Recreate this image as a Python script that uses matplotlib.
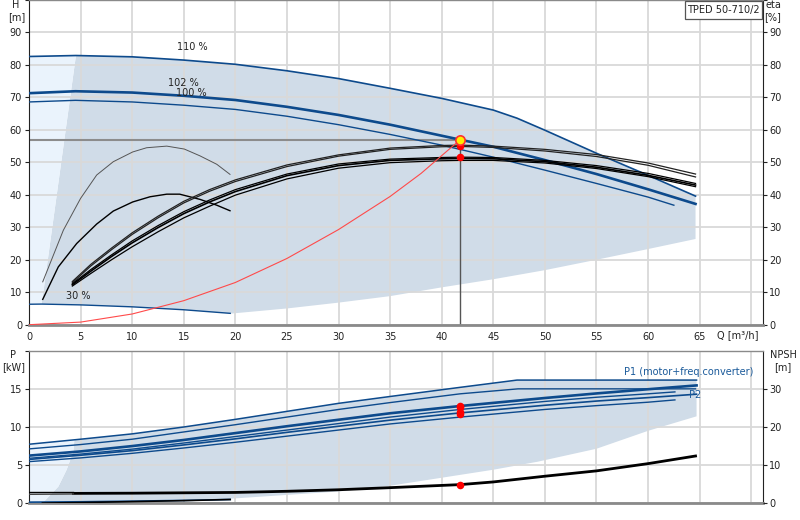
import matplotlib
matplotlib.use("Agg")
import matplotlib.pyplot as plt
from matplotlib.patches import Polygon, Rectangle

# ---------------- data ----------------
# Head curves  H [m] vs Q [m3/h]
Q110 = [0, 4.55, 10, 15, 20, 25, 30, 35, 40, 45, 47.3, 50, 55, 60, 64.6]
H110 = [82.6, 82.9, 82.5, 81.5, 80.2, 78.2, 75.8, 72.8, 69.7, 66.1, 63.6, 59.9, 52.8, 46.0, 39.6]
Q102 = [0, 4.5, 10, 15, 20, 25, 30, 35, 40, 45, 50, 55, 60, 64.6]
H102 = [71.3, 71.9, 71.5, 70.5, 69.2, 67.1, 64.6, 61.6, 58.2, 54.8, 50.7, 46.4, 41.7, 37.2]
Q100 = [0, 4.5, 10, 15, 20, 25, 30, 35, 40, 45, 50, 55, 60, 62.5]
H100 = [68.6, 69.1, 68.6, 67.6, 66.3, 64.2, 61.6, 58.6, 55.3, 51.6, 47.6, 43.5, 39.3, 36.8]
Q30 = [0, 1.23, 5, 10, 15, 19.5]
H30 = [6.3, 6.35, 6.1, 5.5, 4.6, 3.5]
# lower edge of the operating range (head chart)
Qenv_low = [64.6, 60, 55, 50, 45, 40, 35, 30, 25, 19.5]
Henv_low = [26.4, 23.3, 20.0, 16.8, 14.0, 11.5, 8.8, 6.8, 5.0, 3.4]
Qenv_right = [64.6, 64.6]
Henv_right = [39.6, 26.4]
# system curve
Qsys = [0, 5, 10, 15, 20, 25, 30, 35, 38, 41.8]
Hsys = [0, 0.8, 3.3, 7.4, 13.0, 20.4, 29.3, 39.5, 46.6, 57.0]
# duty point
Q_duty = 41.8
H_duty = 57.0
eta_duty = [55.0, 51.5]

# efficiency curves (eta [%])
Qeta30a = [1.33, 3.33, 5.0, 6.56, 8.17, 10.05, 11.4, 13.35, 15.05, 16.57, 18.2, 19.48]
eta30a = [13.2, 29.1, 38.9, 46.1, 50.2, 53.2, 54.5, 55.0, 54.1, 52.0, 49.4, 46.3]
Qeta30b = [1.33, 2.84, 4.62, 6.56, 8.17, 10.05, 11.73, 13.35, 14.6, 16.57, 18.2, 19.48]
eta30b = [7.8, 17.8, 25.0, 31.0, 35.0, 37.8, 39.4, 40.2, 40.2, 38.6, 36.8, 35.1]
Qeta = [4.2, 6, 8, 10, 12.5, 15, 17.5, 20, 25, 30, 35, 40, 41.8, 45, 50, 55, 60, 64.6]
etaP_a = [13.3, 18.6, 23.6, 28.3, 33.4, 38.0, 41.6, 44.6, 49.2, 52.3, 54.4, 55.2, 55.3, 55.0, 54.0, 52.4, 49.8, 46.4]
etaP_b = [12.9, 18.1, 23.1, 27.8, 32.9, 37.5, 41.1, 44.1, 48.7, 51.9, 54.0, 54.8, 54.9, 54.6, 53.5, 51.8, 49.1, 45.5]
etaT_a = [12.6, 17.0, 21.5, 25.8, 30.5, 34.8, 38.4, 41.6, 46.4, 49.5, 51.0, 51.5, 51.6, 51.5, 50.6, 49.0, 46.6, 43.5]
etaT_b = [12.3, 16.5, 21.0, 25.2, 29.9, 34.2, 37.8, 41.0, 45.9, 49.0, 50.6, 51.1, 51.2, 51.1, 50.2, 48.5, 46.0, 43.0]
etaT_c = [11.9, 15.8, 20.0, 24.0, 28.6, 32.9, 36.5, 39.9, 44.9, 48.2, 49.9, 50.5, 50.6, 50.6, 49.8, 48.1, 45.6, 42.5]

# power curves P [kW]
QP110a = [0, 5, 10, 15, 20, 25, 30, 35, 41.8, 47.3, 64.7]
P110a = [7.74, 8.4, 9.1, 10.0, 11.0, 12.05, 13.1, 14.0, 15.2, 16.15, 16.15]
QP110b = [0, 5, 10, 15, 20, 25, 30, 35, 41.8, 47.4, 64.6]
P110b = [7.13, 7.7, 8.4, 9.35, 10.3, 11.3, 12.3, 13.2, 14.35, 15.0, 15.0]
QPc = [0, 5, 10, 15, 20, 25, 30, 35, 41.8, 50, 55, 60, 64.7]
Pc = [6.25, 6.8, 7.5, 8.3, 9.2, 10.1, 10.95, 11.8, 12.75, 13.8, 14.4, 14.95, 15.45]
QPd = [0, 5, 10, 15, 20, 25, 30, 35, 41.8, 50, 55, 60, 62.6]
Pd = [5.9, 6.45, 7.1, 7.9, 8.75, 9.6, 10.45, 11.3, 12.3, 13.35, 13.9, 14.35, 14.6]
QPe = [0, 5, 10, 15, 20, 25, 30, 35, 41.8, 50, 55, 60, 64.7]
Pe = [5.75, 6.3, 6.9, 7.65, 8.45, 9.3, 10.1, 10.9, 11.85, 12.85, 13.4, 13.85, 14.3]
QPf = [0, 5, 10, 15, 20, 25, 30, 35, 41.8, 50, 55, 60, 62.6]
Pf = [5.46, 5.95, 6.55, 7.25, 8.0, 8.8, 9.6, 10.4, 11.3, 12.3, 12.8, 13.25, 13.55]
QP30 = [0, 5, 10, 15, 19.5]
P30 = [0.15, 0.2, 0.28, 0.38, 0.5]
P_duty = [12.8, 12.6, 11.95, 11.7]
# power chart operating range
QPenv_left = [1.4, 2.85, 3.65, 4.3, 4.4]
PPenv_left = [0.15, 2.2, 4.4, 6.8, 8.35]
QPenv_low = [64.7, 60, 55, 49.3, 45, 40, 35, 30, 25, 19.5, 10, 1.4]
PPenv_low = [11.4, 9.5, 7.15, 5.45, 4.4, 3.35, 2.3, 1.55, 1.1, 0.6, 0.35, 0.15]

# NPSH [m]
Qnpsh = [4.3, 10, 15, 20, 25, 30, 35, 41.8, 45, 50, 55, 60, 64.6]
Npsh = [2.6, 2.65, 2.75, 2.85, 3.15, 3.55, 4.1, 4.9, 5.6, 7.1, 8.5, 10.4, 12.4]
Qnpsh_start = [0, 4.3]
Npsh_start_a = [2.85, 2.85]
Npsh_start_b = [2.35, 2.45]
Qnpsh30 = [1.3, 5, 10, 15, 19.5]
Npsh30 = [0.05, 0.2, 0.45, 0.7, 1.0]
Npsh_duty = 4.9

xticks = [0, 5, 10, 15, 20, 25, 30, 35, 40, 45, 50, 55, 60, 65]
hticks = [0, 10, 20, 30, 40, 50, 60, 70, 80, 90]
pticks = [0, 5, 10, 15]
nticks = [0, 10, 20, 30]

# ---------------- styling ----------------
plt.rcParams['font.family'] = ['DejaVu Sans']
BLUE = '#0d4a8c'
SHADE = '#d0dce8'
LIGHT = '#eaf3fc'
GRID = '#d9d9d9'
FS = 7

W, Hpx = 800, 520
fig = plt.figure(figsize=(8, 5.2), dpi=100)
XMAX = 71.09

def fx(px):
    return px / W

def fy(py):
    return 1 - py / Hpx

ax1 = fig.add_axes([fx(29), fy(324.7), 733.5 / W, 324.7 / Hpx])
ax2 = fig.add_axes([fx(29), fy(503.3), 733.5 / W, 152.6 / Hpx])

for ax in (ax1, ax2):
    ax.set_xlim(0, XMAX)
    ax.set_axisbelow('line')
    ax.set_xticks([0, 5, 10, 15, 20, 25, 30, 35, 40, 45, 50, 55, 60, 65, 70])
    ax.grid(True, color=GRID, lw=1.3)
    ax.spines['left'].set_color('#222222')
    ax.spines['right'].set_color('#222222')
    ax.spines['top'].set_color('#8a8a8a')
    ax.spines['bottom'].set_color('#8a8a8a')
    ax.spines['bottom'].set_linewidth(2)
    ax.spines['top'].set_linewidth(1)

# ---------------- top chart ----------------
ax1.set_ylim(0, 100)
ax1.set_yticks(hticks + [100])
ax1.set_yticklabels([str(v) for v in hticks] + [''])
ax1.tick_params(axis='y', which='both', left=True, right=True, labelleft=True,
                labelright=True, length=3, width=0.8, pad=2, labelsize=FS,
                colors='#222222')
ax1.set_xticklabels([str(v) for v in xticks] + [''])
ax1.tick_params(axis='x', length=0, pad=5, labelsize=FS, colors='#222222')

# operating range fills
upper_env = list(zip(Q110[1:], H110[1:]))
poly_pts = upper_env + list(zip(Qenv_right, Henv_right))[1:] + \
    list(zip(Qenv_low, Henv_low)) + list(zip(Q30[::-1], H30[::-1]))[:-1]
ax1.add_patch(Polygon(poly_pts, closed=True, facecolor=SHADE, edgecolor='none', zorder=1))
light_pts = [(Q30[0], H30[0]), (Q30[1], H30[1]), (Q110[1], H110[1]), (Q110[0], H110[0])]
ax1.add_patch(Polygon(light_pts, closed=True, facecolor=LIGHT, edgecolor='none', zorder=1))

# head curves
ax1.plot(Q110, H110, color=BLUE, lw=1.2, zorder=3)
ax1.plot(Q102, H102, color=BLUE, lw=1.9, zorder=3)
ax1.plot(Q100, H100, color=BLUE, lw=1.0, zorder=3)
ax1.plot(Q30, H30, color=BLUE, lw=1.0, zorder=3)

# efficiency curves
ax1.plot(Qeta30a, eta30a, color='#555555', lw=0.7, zorder=3)
ax1.plot(Qeta30b, eta30b, color='black', lw=1.0, zorder=3)
for arr, lw, col in ((etaP_a, 0.9, '#222222'), (etaP_b, 0.9, '#222222'),
                     (etaT_a, 0.9, 'black'), (etaT_b, 1.2, 'black'),
                     (etaT_c, 0.9, 'black')):
    ax1.plot(Qeta, arr, color=col, lw=lw, zorder=3)

# system curve & duty lines
ax1.plot(Qsys, Hsys, color='#ff4a4a', lw=0.8, zorder=3)
ax1.plot([0, Q_duty], [H_duty, H_duty], color='#8c8c8c', lw=1.5, zorder=2.5)
ax1.plot([Q_duty, Q_duty], [0, H_duty], color='#555555', lw=1.0, zorder=2.5)
ax1.scatter([Q_duty, Q_duty], eta_duty, s=30, color='red', zorder=5, linewidths=0)
ax1.scatter([Q_duty], [H_duty], s=45, facecolor='#ffee00', edgecolor='#ff3030',
            linewidths=1.2, zorder=6)

# curve labels
lab_kw = dict(fontsize=FS, color='#222222', ha='center', va='center')
fig.text(fx(192), fy(47), '110 %', **lab_kw)
fig.text(fx(183), fy(83.5), '102 %', **lab_kw)
fig.text(fx(191), fy(92.5), '100 %', **lab_kw)
fig.text(fx(78), fy(296), '30 %', **lab_kw)

# axis captions
fig.text(fx(16), fy(5), 'H', **lab_kw)
fig.text(fx(17), fy(17), '[m]', **lab_kw)
fig.text(fx(773), fy(5), 'eta', **lab_kw)
fig.text(fx(773), fy(17), '[%]', **lab_kw)
fig.text(fx(738), fy(335.5), 'Q [m³/h]', **lab_kw)

# title box
fig.patches.append(Rectangle((fx(684.5), fy(19)), (762 - 684.5) / W, 18.5 / Hpx,
                             transform=fig.transFigure, facecolor='white',
                             edgecolor='#555555', lw=0.9, zorder=10))
fig.text(fx(723), fy(9.5), 'TPED 50-710/2', zorder=11, **lab_kw)

# ---------------- bottom chart ----------------
ax2.set_ylim(0, 20)
ax2.set_yticks(pticks + [20])
ax2.set_yticklabels([str(v) for v in pticks] + [''])
ax2.tick_params(axis='y', left=True, length=3, width=0.8, pad=2, labelsize=FS,
                colors='#222222')
ax2.tick_params(axis='x', length=0, labelbottom=False)

ax2r = ax2.twinx()
ax2r.set_ylim(0, 40)
ax2r.set_yticks(nticks)
ax2r.tick_params(axis='y', length=3, width=0.8, pad=2, labelsize=FS, colors='#222222')
for s in ax2r.spines.values():
    s.set_visible(False)

top_env = [(q, p) for q, p in zip(QP110a, P110a) if q >= QPenv_left[-1]]
penv = [(QPenv_left[-1], PPenv_left[-1])] + top_env + list(zip(QPenv_low, PPenv_low)) + \
    list(zip(QPenv_left, PPenv_left))[:-1]
ax2.add_patch(Polygon(penv, closed=True, facecolor=SHADE, edgecolor='none', zorder=1))
plight = [(0, 0), (QPenv_left[0], 0)] + list(zip(QPenv_left, PPenv_left)) + \
    [(QP110a[1], P110a[1]), (QP110a[0], P110a[0])]
ax2.add_patch(Polygon(plight, closed=True, facecolor=LIGHT, edgecolor='none', zorder=1))

ax2.plot(QP110a, P110a, color=BLUE, lw=1.1, zorder=3)
ax2.plot(QP110b, P110b, color=BLUE, lw=1.0, zorder=3)
ax2.plot(QPc, Pc, color=BLUE, lw=1.9, zorder=3)
ax2.plot(QPd, Pd, color=BLUE, lw=1.0, zorder=3)
ax2.plot(QPe, Pe, color=BLUE, lw=1.2, zorder=3)
ax2.plot(QPf, Pf, color=BLUE, lw=1.0, zorder=3)
ax2.plot(QP30, P30, color=BLUE, lw=1.2, zorder=3)
ax2.scatter([Q_duty] * len(P_duty), P_duty, s=30, color='red', zorder=5, linewidths=0)

ax2r.plot(Qnpsh, Npsh, color='black', lw=2.0, zorder=3)
ax2r.plot(Qnpsh_start, Npsh_start_a, color='black', lw=1.0, zorder=3)
ax2r.plot(Qnpsh_start, Npsh_start_b, color='#444444', lw=1.0, zorder=3)
ax2r.plot(Qnpsh30, Npsh30, color='black', lw=1.2, zorder=3)
ax2r.scatter([Q_duty], [Npsh_duty], s=30, color='red', zorder=5, linewidths=0)

blue_kw = dict(fontsize=FS, color='#1a5a9a', va='center')
fig.text(fx(753), fy(372), 'P1 (motor+freq.converter)', ha='right', **blue_kw)
fig.text(fx(689), fy(394.5), 'P2', ha='left', **blue_kw)

fig.text(fx(13), fy(355), 'P', **lab_kw)
fig.text(fx(14), fy(367), '[kW]', **lab_kw)
fig.text(fx(783), fy(355), 'NPSH', **lab_kw)
fig.text(fx(783), fy(367), '[m]', **lab_kw)

fig.savefig('out.png', dpi=100)
